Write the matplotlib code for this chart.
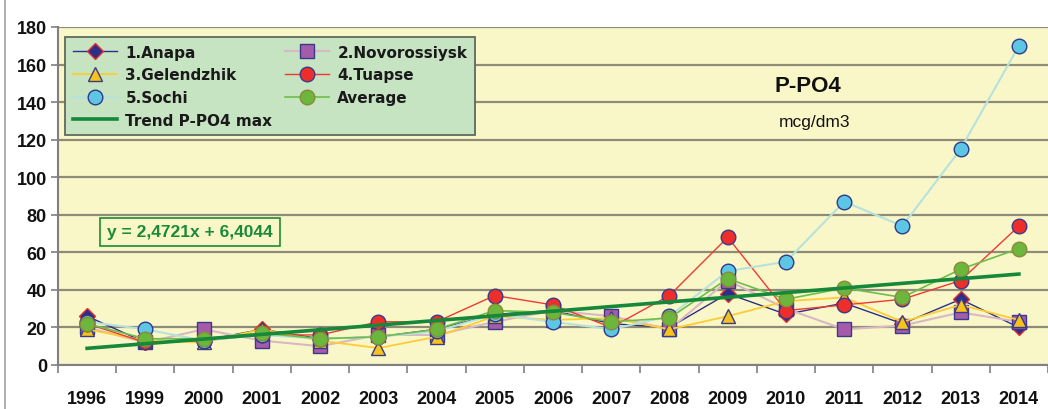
import matplotlib
matplotlib.use("Agg")
import matplotlib.pyplot as plt
import numpy as np

years = ["1996", "1999", "2000", "2001", "2002", "2003", "2004", "2005", "2006",
         "2007", "2008", "2009", "2010", "2011", "2012", "2013", "2014"]
anapa = [26, 12, 13, 19, 14, 15, 19, 27, 29, 22, 20, 38, 27, 33, 22, 35, 20]
novorossiysk = [20, 12, 19, 13, 10, 16, 16, 23, 29, 26, 19, 45, 30, 19, 21, 28, 23]
gelendzhik = [19, 13, 12, 19, 13, 9, 15, 26, 24, 25, 19, 26, 34, 36, 23, 32, 24]
tuapse = [22, 12, 13, 16, 16, 23, 23, 37, 32, 20, 37, 68, 29, 32, 35, 45, 74]
sochi = [23, 19, 13, 16, 14, 15, 18, 27, 23, 19, 26, 50, 55, 87, 74, 115, 170]
average = [22, 14, 14, 17, 14, 15, 19, 29, 28, 23, 25, 46, 35, 41, 36, 51, 62]
trend_slope = 2.4721
trend_intercept = 6.4044

plt.rcParams['font.family'] = ['Liberation Sans', 'DejaVu Sans']

W, H = 1048, 410
fig = plt.figure(figsize=(W / 100, H / 100), dpi=100)
fig.patch.set_facecolor('white')

left, right, top, bottom = 58, 1048, 28, 366
ax = fig.add_axes([left / W, 1 - bottom / H, (right - left) / W, (bottom - top) / H])
ax.set_facecolor('#F9F7C8')

x = np.arange(len(years))

ax.plot(x, anapa, color='#2B2F8A', lw=1.0, marker='D', ms=8,
        mfc='#2B2F8A', mec='#E8302A', mew=1.0, label='1.Anapa', zorder=3)
ax.plot(x, novorossiysk, color='#D8B8C4', lw=1.5, marker='s', ms=10,
        mfc='#A45BAA', mec='#3A3A8A', mew=1.0, label='2.Novorossiysk', zorder=3)
ax.plot(x, gelendzhik, color='#FFCC33', lw=1.3, marker='^', ms=10.5,
        mfc='#F7C31A', mec='#3A3A8A', mew=1.0, label='3.Gelendzhik', zorder=3)
ax.plot(x, tuapse, color='#EE3A33', lw=1.0, marker='o', ms=10.5,
        mfc='#EE2E2A', mec='#3A3A8A', mew=1.0, label='4.Tuapse', zorder=3)
ax.plot(x, sochi, color='#B6E2DC', lw=1.5, marker='o', ms=10.5,
        mfc='#5CC6E4', mec='#2E3A8A', mew=1.0, label='5.Sochi', zorder=3)
ax.plot(x, average, color='#6CBF48', lw=1.2, marker='o', ms=10.5,
        mfc='#6CB63C', mec='#8A8A3A', mew=1.0, label='Average', zorder=3)
trend = trend_slope * (x + 1) + trend_intercept
ax.plot(x, trend, color='#15883A', lw=2.6, label='Trend P-PO4 max', zorder=4)

ax.set_xlim(-0.5, 16.45)
ax.set_ylim(0, 180)
ax.set_yticks(np.arange(0, 181, 20))
ax.yaxis.grid(True, color='#8E8C78', lw=1.6)
ax.set_axisbelow(True)

ax.set_xticks(x)
ax.set_xticklabels(years)
ax.set_xticks(np.arange(-0.5, 16.6, 1), minor=True)
ax.tick_params(axis='x', which='major', length=0, pad=18)
ax.tick_params(axis='x', which='minor', length=6, color='#808080', width=1.2)
ax.tick_params(axis='y', length=5, color='#808080', width=1.2, pad=3)
for lab in ax.get_xticklabels() + ax.get_yticklabels():
    lab.set_fontsize(13)
    lab.set_fontweight('bold')
    lab.set_color('#111111')

for s in ['top', 'right']:
    ax.spines[s].set_visible(False)
for s in ['left', 'bottom']:
    ax.spines[s].set_color('#808080')
    ax.spines[s].set_linewidth(1.5)

handles, labels = ax.get_legend_handles_labels()
order = [0, 2, 4, 6, 1, 3, 5]
leg = ax.legend([handles[i] for i in order], [labels[i] for i in order],
                ncol=2, loc='upper left', bbox_to_anchor=(65 / W, 1 - 38 / H),
                bbox_transform=fig.transFigure, borderaxespad=0, fancybox=False,
                framealpha=1, facecolor='#C6E3C2', edgecolor='#5E6A5E',
                borderpad=0.5, handlelength=2.9, handletextpad=0.55,
                columnspacing=0.8, labelspacing=0.5,
                prop={'family': 'DejaVu Sans', 'size': 11, 'weight': 'bold'})
leg.get_frame().set_linewidth(1.3)
for t in leg.get_texts():
    t.set_color('#1A1A1A')

fig.text(808 / W, 1 - 86 / H, 'P-PO4', fontsize=16, fontweight='bold',
         ha='center', va='center', color='#111111')
fig.text(815 / W, 1 - 123 / H, 'mcg/dm3', fontsize=12.5,
         ha='center', va='center', color='#111111')
fig.text(190 / W, 1 - 233 / H, 'y = 2,4721x + 6,4044', fontsize=12.5,
         fontweight='bold', ha='center', va='center', color='#1A8A3A',
         bbox=dict(boxstyle='square,pad=0.4', fc='#F9F7C8', ec='#1A8A3A', lw=1.2))

fig.add_artist(plt.Line2D([5 / W, 5 / W], [0, 1], color='#A0A0A0', lw=1.2))

fig.savefig('out.png', dpi=100)
